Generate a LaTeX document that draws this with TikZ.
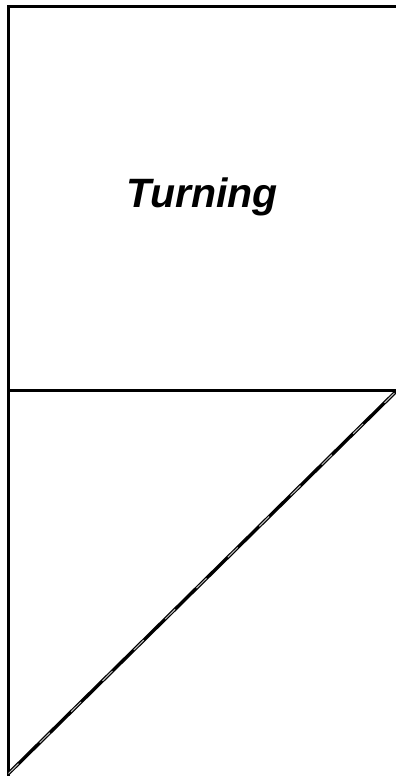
\documentclass[tikz,border=0pt]{standalone}
\usepackage{fontspec}
\setmainfont{Liberation Sans}
\begin{document}
\begin{tikzpicture}[x=1pt,y=1pt,
  edge/.style={line width=3.4pt,black},
  diagedge/.style={line width=3.4pt,black},
  diagdash/.style={line width=1pt,gray!50,dash pattern=on 14pt off 30pt},
  lbl/.style={font=\fontsize{41}{46}\selectfont\bfseries\itshape,anchor=base,inner sep=0pt}]
\useasboundingbox (0,0) rectangle (396,776);
\coordinate (tl) at (8.5,769.5);
\coordinate (tr) at (396,769.5);
\coordinate (ml) at (8.5,385.5);
\coordinate (mr) at (396,385.5);
\coordinate (bl) at (8.5,0);
\coordinate (dbl) at (8.5,2.5);
\coordinate (dtr) at (396,384.5);
\draw[edge] (tr) -- (tl) -- (bl);
\draw[edge] (ml) -- (mr);
\draw[diagedge] (dbl) -- (dtr);
\draw[diagdash] (dbl) -- (dtr);
\node[lbl] (t) at (202,568) {Turning};
\end{tikzpicture}
\end{document}
